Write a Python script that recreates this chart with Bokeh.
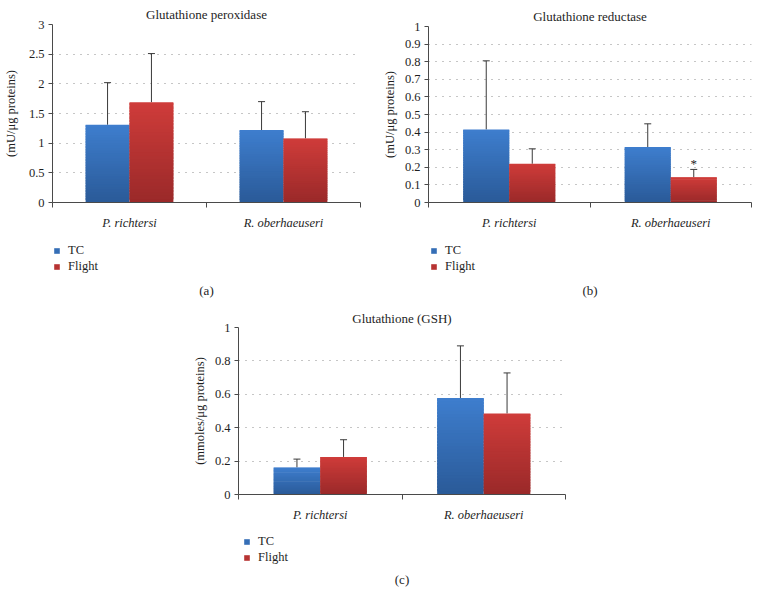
from bokeh.plotting import figure
from bokeh.models import (Range1d, FixedTicker, ColumnDataSource, Whisker, TeeHead,
                          Title, Label, Legend, LegendItem, Spacer, NumeralTickFormatter)
from bokeh.layouts import column, row
from bokeh.embed import file_html
from bokeh.resources import INLINE
from bokeh.core.properties import value

# ---------------- data ----------------
categories = ["P. richtersi", "R. oberhaeuseri"]
series = ["TC", "Flight"]

gpx_tc = [1.31, 1.22]
gpx_flight = [1.69, 1.08]
gpx_tc_err = [2.02, 1.70]        # top of error bar
gpx_flight_err = [2.51, 1.53]
gpx_ticks = [0, 0.5, 1, 1.5, 2, 2.5, 3]

gr_tc = [0.415, 0.315]
gr_flight = [0.22, 0.143]
gr_tc_err = [0.805, 0.447]
gr_flight_err = [0.305, 0.188]
gr_flight_sig = [False, True]
gr_ticks = [0, 0.1, 0.2, 0.3, 0.4, 0.5, 0.6, 0.7, 0.8, 0.9, 1]

gsh_tc = [0.162, 0.578]
gsh_flight = [0.225, 0.485]
gsh_tc_err = [0.212, 0.89]
gsh_flight_err = [0.328, 0.728]
gsh_ticks = [0, 0.2, 0.4, 0.6, 0.8, 1]

FONT = "Liberation Serif"
TEXT_COLOR = "#1e1e1e"
BLUE_BOT, BLUE_TOP = (42, 90, 152), (62, 126, 206)
RED_BOT, RED_TOP = (154, 41, 41), (207, 60, 58)
AXIS_COLOR = "#4a4a4a"
N_SLICES = 30
BAR_W = 0.285


def lerp_hex(c0, c1, t):
    return "#%02x%02x%02x" % tuple(int(round(a + (b - a) * t)) for a, b in zip(c0, c1))


def make_panel(title, caption, ylabel, tc, fl, tc_err, fl_err, ticks, width, height,
               borders, title_standoff, ylab_standoff, foot_h, leg_xy, cap_y, sig=None):
    left, right, top, bottom = borders
    xr = Range1d(0, 2)
    p = figure(width=width, height=height, x_range=xr,
               y_range=Range1d(ticks[0], ticks[-1]), output_backend="svg",
               toolbar_location=None,
               min_border_left=left, min_border_right=right,
               min_border_top=top, min_border_bottom=bottom)
    p.title = Title(text=title, align="center", text_font=FONT, text_font_style="normal",
                    text_font_size="13px", text_color=TEXT_COLOR, standoff=title_standoff)
    p.outline_line_color = None
    p.xgrid.visible = False
    p.ygrid.grid_line_color = "#8c8c8c"
    p.ygrid.grid_line_dash = "1 6"
    p.ygrid.grid_line_width = 1

    # y axis
    ya = p.yaxis[0]
    ya.ticker = FixedTicker(ticks=ticks)
    ya.formatter = NumeralTickFormatter(format="0.[0]")
    ya.axis_line_color = AXIS_COLOR
    ya.major_tick_line_color = AXIS_COLOR
    ya.major_tick_out = 4
    ya.major_tick_in = 0
    ya.minor_tick_line_color = None
    ya.major_label_standoff = 4
    ya.major_label_text_font = FONT
    ya.major_label_text_font_size = "12.5px"
    ya.major_label_text_color = TEXT_COLOR
    ya.axis_label = ylabel
    ya.axis_label_text_font = FONT
    ya.axis_label_text_font_style = "normal"
    ya.axis_label_text_font_size = "12.5px"
    ya.axis_label_text_color = TEXT_COLOR
    ya.axis_label_standoff = ylab_standoff

    # x axis
    xa = p.xaxis[0]
    xa.ticker = FixedTicker(ticks=[0.5, 1.5], minor_ticks=[0, 1, 2])
    xa.major_label_overrides = {0.5: categories[0], 1.5: categories[1]}
    xa.axis_line_color = AXIS_COLOR
    xa.major_tick_line_color = None
    xa.major_tick_out = 0
    xa.major_tick_in = 0
    xa.minor_tick_line_color = AXIS_COLOR
    xa.minor_tick_out = 5
    xa.minor_tick_in = 0
    xa.major_label_standoff = 8
    xa.major_label_text_font = FONT
    xa.major_label_text_font_style = "italic"
    xa.major_label_text_font_size = "12.5px"
    xa.major_label_text_color = TEXT_COLOR

    # footer figure: legend + caption, sharing the x range
    f = figure(width=width, height=foot_h, x_range=xr, y_range=Range1d(0, foot_h),
               output_backend="svg", toolbar_location=None, x_axis_type=None,
               y_axis_type=None, min_border_left=left, min_border_right=right,
               min_border_top=0, min_border_bottom=0)
    f.outline_line_color = None
    f.xgrid.visible = False
    f.ygrid.visible = False

    legend_renderers = []
    for s_idx, (vals, errs, cb, ct) in enumerate([(tc, tc_err, BLUE_BOT, BLUE_TOP),
                                                   (fl, fl_err, RED_BOT, RED_TOP)]):
        off = (-0.5 if s_idx == 0 else 0.5) * BAR_W
        L, R, B, T, C = [], [], [], [], []
        for i, v in enumerate(vals):
            xc = i + 0.5 + off
            for k in range(N_SLICES):
                L.append(xc - BAR_W / 2)
                R.append(xc + BAR_W / 2)
                B.append(v * k / N_SLICES)
                T.append(min(v, v * (k + 1.8) / N_SLICES))
                C.append(lerp_hex(cb, ct, (k + 0.5) / N_SLICES))
        src = ColumnDataSource(dict(left=L, right=R, bottom=B, top=T, color=C))
        p.quad(left="left", right="right", bottom="bottom", top="top", fill_color="color",
               line_color=None, source=src)
        # error bars (upper only)
        wsrc = ColumnDataSource(dict(x=[i + 0.5 + off for i in range(len(vals))],
                                     lower=list(vals), upper=list(errs)))
        w = Whisker(base="x", lower="lower", upper="upper", source=wsrc, dimension="height",
                    line_color="#3a3a3a", line_width=1, lower_head=None,
                    upper_head=TeeHead(size=7, line_color="#3a3a3a", line_width=1))
        p.add_layout(w)
        # legend swatch proxy: zero-area quad, only its colour is used by the legend
        lr = f.quad(left=[0], right=[0], bottom=[0], top=[0],
                    fill_color=lerp_hex(cb, ct, 0.55), line_color=None)
        legend_renderers.append(lr)

    if sig is not None:
        xs = [i + 0.5 + 0.5 * BAR_W for i, s in enumerate(sig) if s]
        ys = [fl_err[i] for i, s in enumerate(sig) if s]
        ssrc = ColumnDataSource(dict(x=xs, y=ys, t=["*"] * len(xs)))
        p.text(x="x", y="y", text="t", source=ssrc, text_align="center",
               text_baseline="bottom", y_offset=2, text_font=value(FONT),
               text_font_size="13px", text_color=TEXT_COLOR)

    legend = Legend(items=[LegendItem(label=series[0], renderers=[legend_renderers[0]]),
                           LegendItem(label=series[1], renderers=[legend_renderers[1]])],
                    location=leg_xy, orientation="vertical", glyph_width=7, glyph_height=7,
                    label_height=15, label_standoff=8, spacing=1, padding=0,
                    margin=0, border_line_color=None, background_fill_alpha=0,
                    label_text_font=FONT, label_text_font_size="12.5px",
                    label_text_color=TEXT_COLOR)
    f.add_layout(legend)
    f.add_layout(Label(x=1, y=cap_y, text=caption, text_align="center",
                       text_baseline="middle", text_font=FONT, text_font_size="13px",
                       text_color=TEXT_COLOR))
    return column(p, f)


pa = make_panel("Glutathione peroxidase", "(a)", "(mU/\u03bcg proteins)",
                gpx_tc, gpx_flight, gpx_tc_err, gpx_flight_err, gpx_ticks,
                379, 237, (52, 19, 24, 35), 5, 8, 69, (1, 32), 16)
pb = make_panel("Glutathione reductase", "(b)", "(mU/\u03bcg proteins)",
                gr_tc, gr_flight, gr_tc_err, gr_flight_err, gr_ticks,
                374, 237, (45, 2, 26, 35), 5, 5, 69, (2, 32), 16, sig=gr_flight_sig)
pc = make_panel("Glutathione (GSH)", "(c)", "(mmoles/\u03bcg proteins)",
                gsh_tc, gsh_flight, gsh_tc_err, gsh_flight_err, gsh_ticks,
                400, 223, (50, 23, 20, 35), 4, 5, 59, (5, 23), 9)

layout = column(row(pa, pb), row(Spacer(width=188, height=282), pc))
open("out.html", "w").write(file_html(layout, INLINE))
